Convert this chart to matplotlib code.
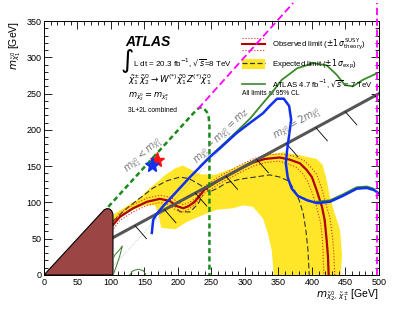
import numpy as np
import matplotlib
matplotlib.use('Agg')
import matplotlib.pyplot as plt
from matplotlib.lines import Line2D
from matplotlib.patches import Patch, Polygon
from matplotlib.legend_handler import HandlerBase

plt.rcParams['font.family'] = ['Liberation Sans', 'DejaVu Sans']

# LEP chargino limit (brown)
lep_x = [0, 90, 94, 98, 101, 103, 103]
lep_y = [0, 90, 91.5, 91, 88.5, 84, 0]

# expected +-1 sigma band: lower edge (left->right), upper edge (right->left)
band_lo_x = [103, 128, 150, 166, 171, 175, 196, 213, 233, 258, 282, 297, 312, 327, 334, 340, 343]
band_lo_y = [72, 88, 96, 96, 83, 65, 63, 73, 81, 90, 92, 96, 94, 78, 58, 34, 0]
band_hi_x = [443, 445, 442, 434, 427, 422, 416, 407, 382, 357, 333, 307, 282, 255, 233, 218, 207, 196, 181, 173, 158, 143, 124, 106, 103]
band_hi_y = [0, 28, 62, 85, 107, 131, 152, 160, 165, 169, 166, 157, 147, 138, 139, 146, 151, 147, 138, 131, 120, 106, 95, 85, 80]

# expected limit
exp_x = [103, 121, 139, 163, 184, 203, 216, 228, 240, 248, 260, 272, 292, 315, 337, 352, 364, 373, 381, 387, 391, 394, 396]
exp_y = [74, 90, 103, 120, 130, 135, 133, 127, 120, 115, 120, 127, 132, 135, 138, 135, 130, 119, 103, 85, 62, 35, 0]
exp2_x = [191, 203, 218, 230, 237]
exp2_y = [99, 87, 87, 98, 110]

# observed limit and theory +-1 sigma
obs_x = [103, 113, 133, 154, 173, 188, 198, 208, 216, 225, 240, 262, 292, 312, 330, 352, 367, 382, 392, 400, 407, 415, 419, 422, 424, 425]
obs_y = [69, 80, 92, 101, 105, 102, 95, 92, 95, 101, 118, 131, 146, 155, 160, 162, 159, 154, 145, 135, 117, 94, 76, 48, 25, 0]
obs_up_x = [103, 113, 133, 154, 173, 190, 200, 208, 217, 227, 241, 262, 292, 312, 330, 352, 372, 388, 398, 407, 414, 421, 427, 431, 433, 434]
obs_up_y = [74, 85, 97, 106, 110, 107, 100, 97, 100, 106, 123, 136, 151, 160, 165, 167, 164, 158, 149, 139, 121, 98, 78, 50, 25, 0]
obs_dn_x = [104, 113, 133, 154, 173, 187, 196, 207, 215, 224, 240, 262, 292, 312, 330, 350, 362, 376, 386, 393, 401, 408, 413, 416, 417, 418]
obs_dn_y = [64, 75, 87, 96, 100, 97, 90, 87, 90, 96, 113, 126, 141, 150, 155, 157, 154, 149, 140, 130, 112, 90, 72, 46, 22, 0]

# other-model limits (blue)
blue_x = [161, 163, 169, 178, 188, 203, 218, 233, 248, 263, 288, 308, 327, 337, 348, 358, 366, 369, 366, 363, 361, 364, 370, 379, 393, 408, 427, 446, 467, 482, 493, 499]
blue_y = [58, 76, 85, 95, 105, 120, 135, 149, 163, 175, 196, 210, 223, 233, 243, 243, 233, 214, 193, 172, 154, 134, 119, 109, 103, 99, 101, 109, 119, 120, 117, 113]

# ATLAS 7 TeV limit (green)
g7_x = [233, 258, 288, 308, 327, 340, 355, 378, 402, 422, 437, 449, 461, 476, 497]
g7_y = [150, 172, 198, 216, 237, 251, 269, 285, 292, 289, 276, 262, 260, 269, 278]
g7b_x = [407, 427, 446, 467, 482, 492]
g7b_y = [101, 103, 111, 121, 122, 119]
g7c_x = [104, 108, 113, 117, 112, 106, 104]
g7c_y = [2, 12, 26, 40, 34, 28, 24]
g7d_x = [128, 133, 141, 148, 152]
g7d_y = [0, 6, 8, 6, 1]

# kinematic lines
diag_x = [96, 228, 233, 238, 243, 246, 247, 247]
diag_y = [94, 228, 231, 230, 225, 217, 205, 0]
half_x = [103, 500]
half_y = [51.5, 250]
mz_x = [103, 330]
mz_y = [12, 239]
hatch_x = [136, 180, 226, 272, 318, 362, 406, 450, 494]
mag_x = [230, 372]
mag_y = [229, 375]
magv_x = [497, 497]
magv_y = [0, 375]

# benchmark stars
star_red = (169, 158)
star_blue = (162, 152)

yellow = '#ffe629'
dred = '#b00000'

fig = plt.figure(figsize=(4.15, 3.15), dpi=100)
ax = fig.add_axes([0.106, 0.127, 0.807, 0.806])
ax.set_xlim(0, 500)
ax.set_ylim(0, 350)

band = Polygon(np.column_stack([band_lo_x + band_hi_x, band_lo_y + band_hi_y]),
               closed=True, facecolor=yellow, edgecolor='none', zorder=1)
ax.add_patch(band)
ax.plot(exp_x, exp_y, color='#333333', ls=(0, (5, 2.5)), lw=0.8, zorder=2)
ax.plot(exp2_x, exp2_y, color='#333333', ls=(0, (5, 2.5)), lw=0.8, zorder=2)
ax.plot(obs_up_x, obs_up_y, color='#e03020', ls=':', lw=0.8, zorder=3)
ax.plot(obs_dn_x, obs_dn_y, color='#e03020', ls=':', lw=0.8, zorder=3)
ax.plot(obs_x, obs_y, color=dred, lw=1.6, zorder=3)

ax.plot(mz_x, mz_y, color='#aaaaaa', lw=0.5, ls=':', zorder=2)
ax.plot(half_x, half_y, color='#555555', lw=2.2, zorder=4)
hy = np.interp(hatch_x, half_x, half_y)
for hx, yy in zip(hatch_x, hy):
    ax.plot([hx, hx + 17], [yy, yy - 18], color='black', lw=0.6, zorder=4)

ax.add_patch(Polygon(np.column_stack([lep_x, lep_y]), closed=True,
                     facecolor='#9c4545', edgecolor='black', lw=0.8, zorder=5))

ax.plot(diag_x, diag_y, color='#1a8a1a', lw=1.8, ls=(0, (2, 1.3)), zorder=5)
ax.plot(g7_x, g7_y, color='#3a8a2a', lw=1.3, zorder=5)
ax.plot(g7b_x, g7b_y, color='#3a8a2a', lw=1.3, zorder=5)
ax.plot(g7c_x, g7c_y, color='#3a7a2a', lw=0.7, zorder=5)
ax.plot(g7d_x, g7d_y, color='#3a7a2a', lw=0.7, zorder=5)
ax.plot(blue_x, blue_y, color='#1030ee', lw=1.8, zorder=6)

ax.plot(mag_x, mag_y, color='#ff00ff', lw=1.3, ls=(0, (4, 2)), zorder=6, clip_on=False)
ax.plot(magv_x, magv_y, color='#ff00ff', lw=1.3, ls=(0, (4, 2)), zorder=6, clip_on=False)

ax.plot(*star_red, marker='*', ms=11, color='#ff1010', zorder=7)
ax.plot(*star_blue, marker='*', ms=11, color='#1030ee', zorder=8)

# line labels
ax.text(149, 165, r'$m_{\tilde{\chi}^0_2} < m_{\tilde{\chi}^0_1}$', color='#777777',
        fontsize=7, rotation=42, ha='center', va='center', zorder=6)
ax.text(266, 190, r'$m_{\tilde{\chi}^0_2} - m_{\tilde{\chi}^0_1} = m_Z$', color='#777777',
        fontsize=7, rotation=45, ha='center', va='center', zorder=6)
ax.text(378, 208, r'$m_{\tilde{\chi}^0_2} = 2m_{\tilde{\chi}^0_1}$', color='#777777',
        fontsize=7, rotation=30, ha='center', va='center', zorder=6)

# header texts
tr = ax.transAxes
ax.text(0.242, 0.90, 'ATLAS', fontsize=10, fontweight='bold', style='italic', transform=tr)
ax.text(0.228, 0.842, r'$\int$', fontsize=13, va='center', transform=tr)
ax.text(0.266, 0.835, r'L dt = 20.3 fb$^{-1}$, $\sqrt{s}$=8 TeV', fontsize=5.8,
        va='center', transform=tr)
ax.text(0.251, 0.768, r'$\tilde{\chi}^{\pm}_{1}\tilde{\chi}^{0}_{2} \rightarrow W^{(*)}\tilde{\chi}^{0}_{1}Z^{(*)}\tilde{\chi}^{0}_{1}$',
        fontsize=6.3, va='center', transform=tr)
ax.text(0.251, 0.70, r'$m_{\tilde{\chi}^0_2} = m_{\tilde{\chi}^{\pm}_1}$', fontsize=6,
        va='center', transform=tr)
ax.text(0.251, 0.646, '3L+2L combined', fontsize=4.8, va='center', transform=tr)
ax.text(0.591, 0.714, 'All limits at 95% CL', fontsize=4.8, va='center', transform=tr)


class HandlerObs(HandlerBase):
    def create_artists(self, legend, orig_handle, xdescent, ydescent,
                       width, height, fontsize, trans):
        y0 = height / 2 - ydescent
        x0, x1 = -xdescent, width - xdescent
        arts = [Line2D([x0, x1], [y0, y0], color=dred, lw=1.5, transform=trans)]
        for dy in (height * 0.6, -height * 0.6):
            arts.append(Line2D([x0, x1], [y0 + dy, y0 + dy], color='#e03020',
                               ls=':', lw=0.8, transform=trans))
        return arts


h_obs = Line2D([], [], color=dred)
h_exp = (Patch(facecolor=yellow, edgecolor='none'),
         Line2D([], [], color='#333333', ls=(0, (4, 2)), lw=0.9))
h_g7 = Line2D([], [], color='#3a8a2a', lw=1.2)
ax.legend([h_obs, h_exp, h_g7],
          [r'Observed limit ($\pm1\,\sigma^{\mathrm{SUSY}}_{\mathrm{theory}}$)',
           r'Expected limit ($\pm1\,\sigma_{\mathrm{exp}}$)',
           r'ATLAS 4.7 fb$^{-1}$, $\sqrt{s}$ = 7 TeV'],
          handler_map={h_obs: HandlerObs()},
          loc='upper left', bbox_to_anchor=(0.591, 0.94), frameon=False,
          fontsize=5.6, handlelength=3.0, handleheight=1.6, handletextpad=0.9,
          labelspacing=0.82, borderpad=0, borderaxespad=0)

ax.set_xticks(np.arange(0, 501, 50))
ax.set_yticks(np.arange(0, 351, 50))
ax.set_xticks(np.arange(0, 501, 10), minor=True)
ax.set_yticks(np.arange(0, 351, 10), minor=True)
ax.tick_params(which='both', direction='in', top=True, right=True, width=0.6,
               labelsize=6.5, pad=2)
ax.tick_params(which='major', length=6)
ax.tick_params(which='minor', length=3)
for s in ax.spines.values():
    s.set_linewidth(0.7)

ax.set_xlabel(r'$m_{\tilde{\chi}^0_2,\,\tilde{\chi}^{\pm}_1}$ [GeV]', fontsize=7.5,
              loc='right', labelpad=0)
ax.set_ylabel(r'$m_{\tilde{\chi}^0_1}$ [GeV]', fontsize=7.5, loc='top', labelpad=2)

fig.savefig('out.png', dpi=100)
